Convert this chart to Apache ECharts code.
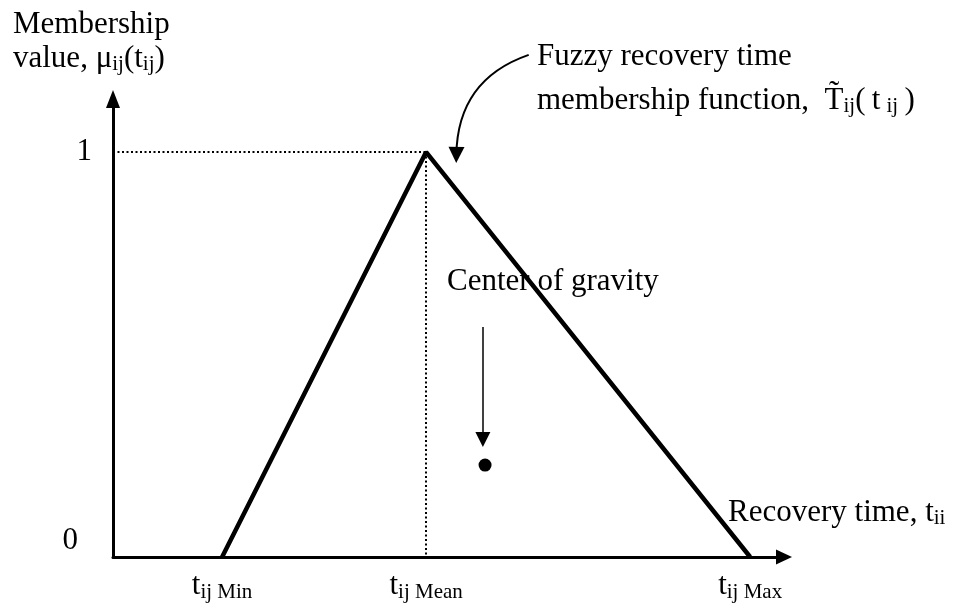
<!DOCTYPE html>
<html>
<head>
<meta charset="UTF-8">
<title>Fuzzy recovery time</title>
<script type="text/javascript" src="https://cdn.jsdelivr.net/npm/echarts@6/dist/echarts.min.js"></script>
</head>
<body style="margin:0;background:#fff">
	<div id="show" style="width:956px;height:603px"></div>
	<script type="text/javascript">
		// t_ij Min, Mean, Max on the recovery time axis
		var tValues=[1,2.87,5.84];
		var tNames=['Min','Mean','Max'];
		var membership=[0,1,0];
		var yTicks=[0,1];
		var centroid=[3.41,0.227];
		var gravityArrow=[[3.39,0.568],[3.39,0.29]];
		var calloutArrow=[[3.81,1.24],[3.147,0.993]];

		var serif='"Liberation Serif","Times New Roman",serif';
		var subStyle={fontSize:21,fontFamily:serif,color:'#000',padding:[12,0,0,0],lineHeight:24};

		var triangle=[];
		for(var i=0;i<tValues.length;i++){
			triangle.push([tValues[i],membership[i]]);
		}

		var myCharts=echarts.init(document.getElementById('show'));
		myCharts.setOption({
			backgroundColor:'#fff',
			animation:false,
			grid:{left:113,right:172,top:99,bottom:46,containLabel:false,outerBoundsMode:'none'},
			xAxis:{
				type:'value',min:0,max:6.15,
				splitLine:{show:false},
				axisTick:{show:false},
				axisLine:{show:true,symbol:['none','triangle'],symbolSize:[15,16],lineStyle:{color:'#000',width:3}},
				axisLabel:{
					customValues:tValues,
					margin:11,
					formatter:function(v){
						var k=tValues.indexOf(v);
						return '{t|t}{s|ij '+tNames[k]+'}';
					},
					rich:{
						t:{fontSize:31,fontFamily:serif,color:'#000',lineHeight:36},
						s:subStyle
					}
				}
			},
			yAxis:{
				type:'value',min:0,max:1.131,
				splitLine:{show:false},
				axisTick:{show:false},
				axisLine:{show:true,symbol:['none','triangle'],symbolSize:[14,18],lineStyle:{color:'#000',width:3}},
				axisLabel:{
					customValues:yTicks,
					margin:21,
					formatter:function(v){
						return v===0?'{z|0}':'{o|1}';
					},
					rich:{
						z:{fontSize:31,fontFamily:serif,color:'#000',padding:[0,14,32,0]},
						o:{fontSize:31,fontFamily:serif,color:'#000'}
					}
				}
			},
			series:[{
				name:'membership',
				type:'line',
				data:triangle,
				symbol:'none',
				lineStyle:{color:'#000',width:4.5},
				markLine:{
					silent:true,
					symbol:['none','none'],
					label:{show:false},
					lineStyle:{color:'#000',type:[2,2.5],width:2},
					data:[
						[{coord:[0,1]},{coord:[tValues[1],1]}],
						[{coord:[tValues[1],1]},{coord:[tValues[1],0]}]
					]
				}
			},{
				name:'center of gravity',
				type:'scatter',
				data:[centroid],
				symbolSize:13,
				itemStyle:{color:'#000',opacity:1}
			},{
				name:'gravity arrow',
				type:'lines',
				coordinateSystem:'cartesian2d',
				polyline:false,
				clip:false,
				symbol:['none','triangle'],
				symbolSize:[14,15],
				lineStyle:{color:'#000',width:1.5,opacity:1},
				data:[{coords:gravityArrow}]
			},{
				name:'callout arrow',
				type:'lines',
				coordinateSystem:'cartesian2d',
				clip:false,
				symbol:['none','triangle'],
				symbolSize:[15,16],
				lineStyle:{color:'#000',width:2,opacity:1,curveness:-0.35},
				data:[{coords:calloutArrow}]
			}],
			graphic:[
				{type:'text',left:13,top:9,style:{text:'Membership',font:'31px '+serif,fill:'#000'}},
				{type:'text',left:13,top:42,style:{
					text:'{m|value, μ}{s|ij}{m|(t}{s|ij}{m|)}',
					rich:{m:{fontSize:31,fontFamily:serif,color:'#000',lineHeight:36},s:subStyle}
				}},
				{type:'text',left:537,top:41,style:{text:'Fuzzy recovery time',font:'31px '+serif,fill:'#000'}},
				{type:'text',left:537,top:84,style:{
					text:'{m|membership function,  T\u0303}{s|ij}{m|(\u2009t\u2009}{s|ij}{m|\u2009)}',
					rich:{m:{fontSize:31,fontFamily:serif,color:'#000',lineHeight:36},s:subStyle}
				}},
				{type:'text',left:447,top:266,style:{text:'Center of gravity',font:'31px '+serif,fill:'#000'}},
				{type:'text',left:728,top:496,style:{
					text:'{m|Recovery time, t}{s|ii}',
					rich:{m:{fontSize:31,fontFamily:serif,color:'#000',lineHeight:36},s:subStyle}
				}}
			]
		});
	</script>
</body>
</html>
